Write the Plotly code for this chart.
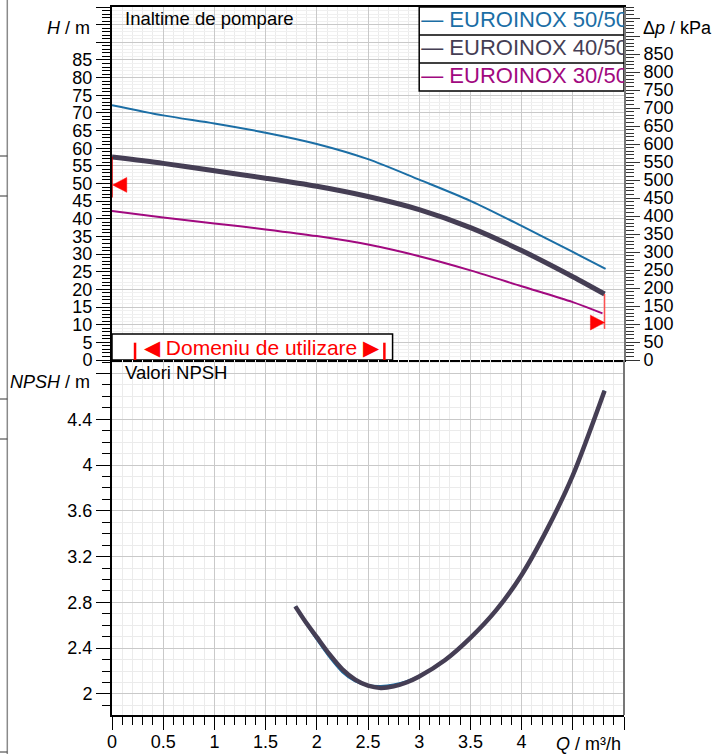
import plotly.graph_objects as go

FONT = "Liberation Sans, Arial, sans-serif"

# ---------------- data ----------------
series_names = ["EUROINOX 50/50", "EUROINOX 40/50", "EUROINOX 30/50"]
series_colors = ["#1b6ea5", "#453e54", "#a1097f"]

# Head curves H(Q), Q in m3/h, H in m
q_50 = [0, 0.5, 1.0, 1.5, 2.0, 2.5, 3.0, 3.5, 4.0, 4.5, 4.82]
h_50 = [72.2, 69.3, 67.0, 64.4, 61.2, 56.9, 51.1, 45.1, 38.0, 30.6, 25.8]
q_40 = [0, 0.5, 1.0, 1.5, 2.0, 2.5, 3.0, 3.5, 4.0, 4.5, 4.81]
h_40 = [57.5, 55.7, 53.6, 51.5, 49.2, 46.3, 42.6, 37.5, 31.0, 23.6, 18.7]
q_30 = [0, 0.5, 1.0, 1.5, 2.0, 2.5, 3.0, 3.5, 4.0, 4.5, 4.79]
h_30 = [42.2, 40.4, 38.7, 37.0, 35.1, 32.7, 29.4, 25.4, 20.9, 16.4, 13.2]

# NPSH curves
q_npsh = [1.79, 1.9, 2.0, 2.125, 2.25, 2.375, 2.5, 2.625, 2.75, 2.875, 3.0,
          3.25, 3.5, 3.75, 4.0, 4.25, 4.5, 4.81]
npsh_50 = [2.765, 2.610, 2.478, 2.322, 2.192, 2.112, 2.075, 2.068, 2.080, 2.110, 2.156,
           2.294, 2.49, 2.73, 3.04, 3.44, 3.91, 4.65]
npsh_40 = [2.765, 2.617, 2.496, 2.345, 2.215, 2.125, 2.072, 2.053, 2.066, 2.100, 2.152,
           2.294, 2.49, 2.73, 3.04, 3.44, 3.91, 4.65]

# operating range markers
range_left_q, range_left_h = 0.0, 49.6
range_left_line = [57.5, 46.0]
range_right_q, range_right_h = 4.81, 10.6
range_right_line = [18.7, 8.8]
domain_q = [0.225, 2.66]

KPA_PER_M = 9.81
H_MAX = 100
NPSH_RANGE = [1.816, 4.918]
Q_MAX = 5

# tick labels
h_ticks = list(range(0, 101, 5))
h_ticktext = [str(v) if v <= 85 else "" for v in h_ticks]
p_ticks = list(range(0, 951, 50))
p_ticktext = [str(v) if v <= 850 else "" for v in p_ticks]
n_ticks = [2.0, 2.4, 2.8, 3.2, 3.6, 4.0, 4.4, 4.8]
n_ticktext = ["2", "2.4", "2.8", "3.2", "3.6", "4", "4.4", ""]
q_ticks = [0, 0.5, 1, 1.5, 2, 2.5, 3, 3.5, 4, 4.5, 5]
q_ticktext = ["0", "0.5", "1", "1.5", "2", "2.5", "3", "3.5", "4", "", ""]

# ---------------- layout geometry ----------------
W, HT = 723, 754
ML, MR, MT, MB = 112, 99, 7, 39
PW, PH = W - ML - MR, HT - MT - MB
split = 355 / PH


def px_x(px):
    return (px - ML) / PW


def px_y(py):
    return (HT - MB - py) / PH


fig = go.Figure()

line_kw = dict(shape="spline", smoothing=0.8)
# Head curves
fig.add_trace(go.Scatter(x=q_50, y=h_50, mode="lines", xaxis="x", yaxis="y",
                         line=dict(color=series_colors[0], width=2, **line_kw),
                         hoverinfo="skip", showlegend=False))
fig.add_trace(go.Scatter(x=q_30, y=h_30, mode="lines", xaxis="x", yaxis="y",
                         line=dict(color=series_colors[2], width=2, **line_kw),
                         hoverinfo="skip", showlegend=False))
fig.add_trace(go.Scatter(x=q_40, y=h_40, mode="lines", xaxis="x", yaxis="y",
                         line=dict(color=series_colors[1], width=5, **line_kw),
                         hoverinfo="skip", showlegend=False))
# pressure axis companion (invisible)
fig.add_trace(go.Scatter(x=q_40, y=[h * KPA_PER_M for h in h_40], mode="lines",
                         xaxis="x", yaxis="y3", line=dict(width=0), opacity=0,
                         hoverinfo="skip", showlegend=False))

# red range lines
fig.add_trace(go.Scatter(x=[range_left_q, range_left_q], y=range_left_line, mode="lines",
                         xaxis="x", yaxis="y", line=dict(color="#d00000", width=1.5),
                         hoverinfo="skip", showlegend=False, cliponaxis=False))
fig.add_trace(go.Scatter(x=[range_right_q, range_right_q], y=range_right_line, mode="lines",
                         xaxis="x", yaxis="y", line=dict(color="#ff5050", width=1.5),
                         hoverinfo="skip", showlegend=False))

# NPSH curves
fig.add_trace(go.Scatter(x=q_npsh, y=npsh_50, mode="lines", xaxis="x2", yaxis="y2",
                         line=dict(color=series_colors[0], width=2.5, **line_kw),
                         hoverinfo="skip", showlegend=False))
fig.add_trace(go.Scatter(x=q_npsh, y=npsh_40, mode="lines", xaxis="x2", yaxis="y2",
                         line=dict(color=series_colors[1], width=4.5, **line_kw),
                         hoverinfo="skip", showlegend=False))

# legend (drawn inside the plot, clipped at the right edge)
leg_x0, leg_x1 = 3.0, Q_MAX
leg_top, leg_bot = H_MAX, 76.2
row_h = (leg_top - leg_bot) / 3
leg_rows_y = [leg_top - row_h * (i + 0.5) for i in range(3)]
fig.add_trace(go.Scatter(x=[leg_x0 + 0.02] * 3, y=leg_rows_y, mode="text",
                         text=["— " + n for n in series_names],
                         textposition="middle right",
                         textfont=dict(family=FONT, size=22, color=series_colors),
                         xaxis="x", yaxis="y", cliponaxis=True,
                         hoverinfo="skip", showlegend=False))

shapes = []
shapes.append(dict(type="rect", xref="x", yref="y", x0=leg_x0, x1=leg_x1, y0=leg_bot, y1=leg_top,
                   fillcolor="white", line=dict(color="black", width=1.5), layer="between"))
for i in (1, 2):
    yy = leg_top - row_h * i
    shapes.append(dict(type="line", xref="x", yref="y", x0=leg_x0, x1=leg_x1, y0=yy, y1=yy,
                       line=dict(color="black", width=1.5), layer="between"))
# Domeniu de utilizare box
shapes.append(dict(type="rect", xref="x", yref="y", x0=0, x1=2.74, y0=0, y1=7.4,
                   fillcolor="white", line=dict(color="black", width=1.5), layer="between"))
for qv in domain_q:
    shapes.append(dict(type="line", xref="x", yref="y", x0=qv, x1=qv, y0=0, y1=4.9,
                       line=dict(color="#ff0000", width=2.5), layer="above"))

# red triangles (range markers)
tri_w, tri_h = 0.138, 2.1
shapes.append(dict(type="path", xref="x", yref="y", layer="above",
                   path=f"M {range_left_q + 0.006},{range_left_h} L {range_left_q + 0.006 + tri_w},{range_left_h + tri_h} "
                        f"L {range_left_q + 0.006 + tri_w},{range_left_h - tri_h} Z",
                   fillcolor="#ff0000", line=dict(color="#ff0000", width=0.5)))
shapes.append(dict(type="path", xref="x", yref="y", layer="above",
                   path=f"M {range_right_q},{range_right_h} L {range_right_q - tri_w},{range_right_h + tri_h} "
                        f"L {range_right_q - tri_w},{range_right_h - tri_h} Z",
                   fillcolor="#ff0000", line=dict(color="#ff0000", width=0.5)))

# right border of lower panel
shapes.append(dict(type="line", xref="paper", yref="paper", x0=1, x1=1, y0=0, y1=split,
                   line=dict(color="#777777", width=2), layer="above"))
# page artefacts at the left edge
shapes.append(dict(type="line", xref="paper", yref="paper", x0=px_x(7.3), x1=px_x(7.3),
                   y0=px_y(0), y1=px_y(754), line=dict(color="#8a8a8a", width=1.5)))
for yy in (156, 196, 399, 439, 752):
    shapes.append(dict(type="line", xref="paper", yref="paper", x0=px_x(0), x1=px_x(7.3),
                       y0=px_y(yy), y1=px_y(yy), line=dict(color="#333333", width=1)))

tickfont = dict(family=FONT, size=18, color="black")
major_grid = "#c9c9c9"
minor_grid = "#ebebeb"

annotations = [
    dict(text="Inaltime de pompare", x=px_x(123), y=px_y(19), xref="paper", yref="paper",
         xanchor="left", yanchor="middle", showarrow=False,
         font=dict(family=FONT, size=18.5, color="black")),
    dict(text="Valori NPSH", x=px_x(123), y=px_y(373), xref="paper", yref="paper",
         xanchor="left", yanchor="middle", showarrow=False,
         font=dict(family=FONT, size=18.5, color="black")),
    dict(text="<i>H</i> / m", x=px_x(92), y=px_y(28), xref="paper", yref="paper",
         xanchor="right", yanchor="middle", showarrow=False, font=tickfont),
    dict(text="<i>NPSH</i> / m", x=px_x(92), y=px_y(382), xref="paper", yref="paper",
         xanchor="right", yanchor="middle", showarrow=False, font=tickfont),
    dict(text="Δ<i>p</i> / kPa", x=px_x(641), y=px_y(28), xref="paper", yref="paper",
         xanchor="left", yanchor="middle", showarrow=False, font=tickfont),
    dict(text="<i>Q</i> / m³/h", x=px_x(623), y=px_y(744), xref="paper", yref="paper",
         xanchor="right", yanchor="middle", showarrow=False, font=tickfont),
    dict(text="◀ Domeniu de utilizare ▶", x=(domain_q[0] + domain_q[1]) / 2 + 0.02, y=3.6,
         xref="x", yref="y", xanchor="center", yanchor="middle", showarrow=False,
         font=dict(family=FONT, size=21, color="#ff0000")),
]

fig.update_layout(
    width=W, height=HT,
    margin=dict(l=ML, r=MR, t=MT, b=MB, pad=0),
    paper_bgcolor="white", plot_bgcolor="white",
    font=dict(family=FONT, color="black"),
    showlegend=False,
    shapes=shapes,
    annotations=annotations,
    xaxis=dict(domain=[0, 1], anchor="y", range=[0, Q_MAX], tickmode="array", tickvals=q_ticks,
               showticklabels=False, ticks="", showgrid=True, gridcolor=major_grid, gridwidth=1,
               minor=dict(tickmode="linear", tick0=0, dtick=0.1, showgrid=True,
                          gridcolor=minor_grid, gridwidth=1, ticks=""),
               showline=True, linecolor="black", linewidth=1.5, mirror=True, zeroline=False,
               automargin=False, fixedrange=True),
    yaxis=dict(domain=[split, 1], anchor="x", range=[0, H_MAX], tickmode="array",
               tickvals=h_ticks, ticktext=h_ticktext, tickfont=tickfont,
               ticks="outside", ticklen=14, tickwidth=1, tickcolor="black",
               showgrid=True, gridcolor=major_grid, gridwidth=1,
               minor=dict(tickmode="linear", tick0=0, dtick=1, ticks="outside", ticklen=8,
                          tickwidth=1, tickcolor="black", showgrid=True,
                          gridcolor="#f0f0f0", gridwidth=1),
               showline=True, linecolor="black", linewidth=2, zeroline=False,
               automargin=False, fixedrange=True),
    yaxis3=dict(overlaying="y", anchor="x", side="right", range=[0, H_MAX * KPA_PER_M],
                tickmode="array", tickvals=p_ticks, ticktext=p_ticktext, tickfont=tickfont,
                ticks="outside", ticklen=14, tickwidth=1, tickcolor="#333333",
                showgrid=False,
                minor=dict(tickmode="linear", tick0=0, dtick=10, ticks="outside", ticklen=8,
                           tickwidth=1, tickcolor="#333333", showgrid=False),
                showline=True, linecolor="#777777", linewidth=2, zeroline=False,
                automargin=False, fixedrange=True),
    xaxis2=dict(domain=[0, 1], anchor="y2", range=[0, Q_MAX], tickmode="array",
                tickvals=q_ticks, ticktext=q_ticktext, tickfont=tickfont,
                ticks="outside", ticklen=13, tickwidth=1, tickcolor="black",
                ticklabelstandoff=-4,
                showgrid=True, gridcolor=major_grid, gridwidth=1,
                minor=dict(tickmode="linear", tick0=0, dtick=0.1, ticks="outside", ticklen=8,
                           tickwidth=1, tickcolor="black", showgrid=True,
                           gridcolor=minor_grid, gridwidth=1),
                showline=True, linecolor="black", linewidth=2, zeroline=False,
                automargin=False, fixedrange=True),
    yaxis2=dict(domain=[0, split], anchor="x2", range=NPSH_RANGE, tickmode="array",
                tickvals=n_ticks, ticktext=n_ticktext, tickfont=tickfont,
                ticks="outside", ticklen=14, tickwidth=1, tickcolor="black",
                showgrid=True, gridcolor=major_grid, gridwidth=1,
                minor=dict(tickmode="linear", tick0=0, dtick=0.1, ticks="outside", ticklen=8,
                           tickwidth=1, tickcolor="black", showgrid=True,
                           gridcolor=minor_grid, gridwidth=1),
                showline=True, linecolor="black", linewidth=2, zeroline=False,
                automargin=False, fixedrange=True),
)

fig.write_html("out.html", config={"displayModeBar": False},
               post_script="document.body.style.margin='0';document.body.style.overflow='hidden';")
